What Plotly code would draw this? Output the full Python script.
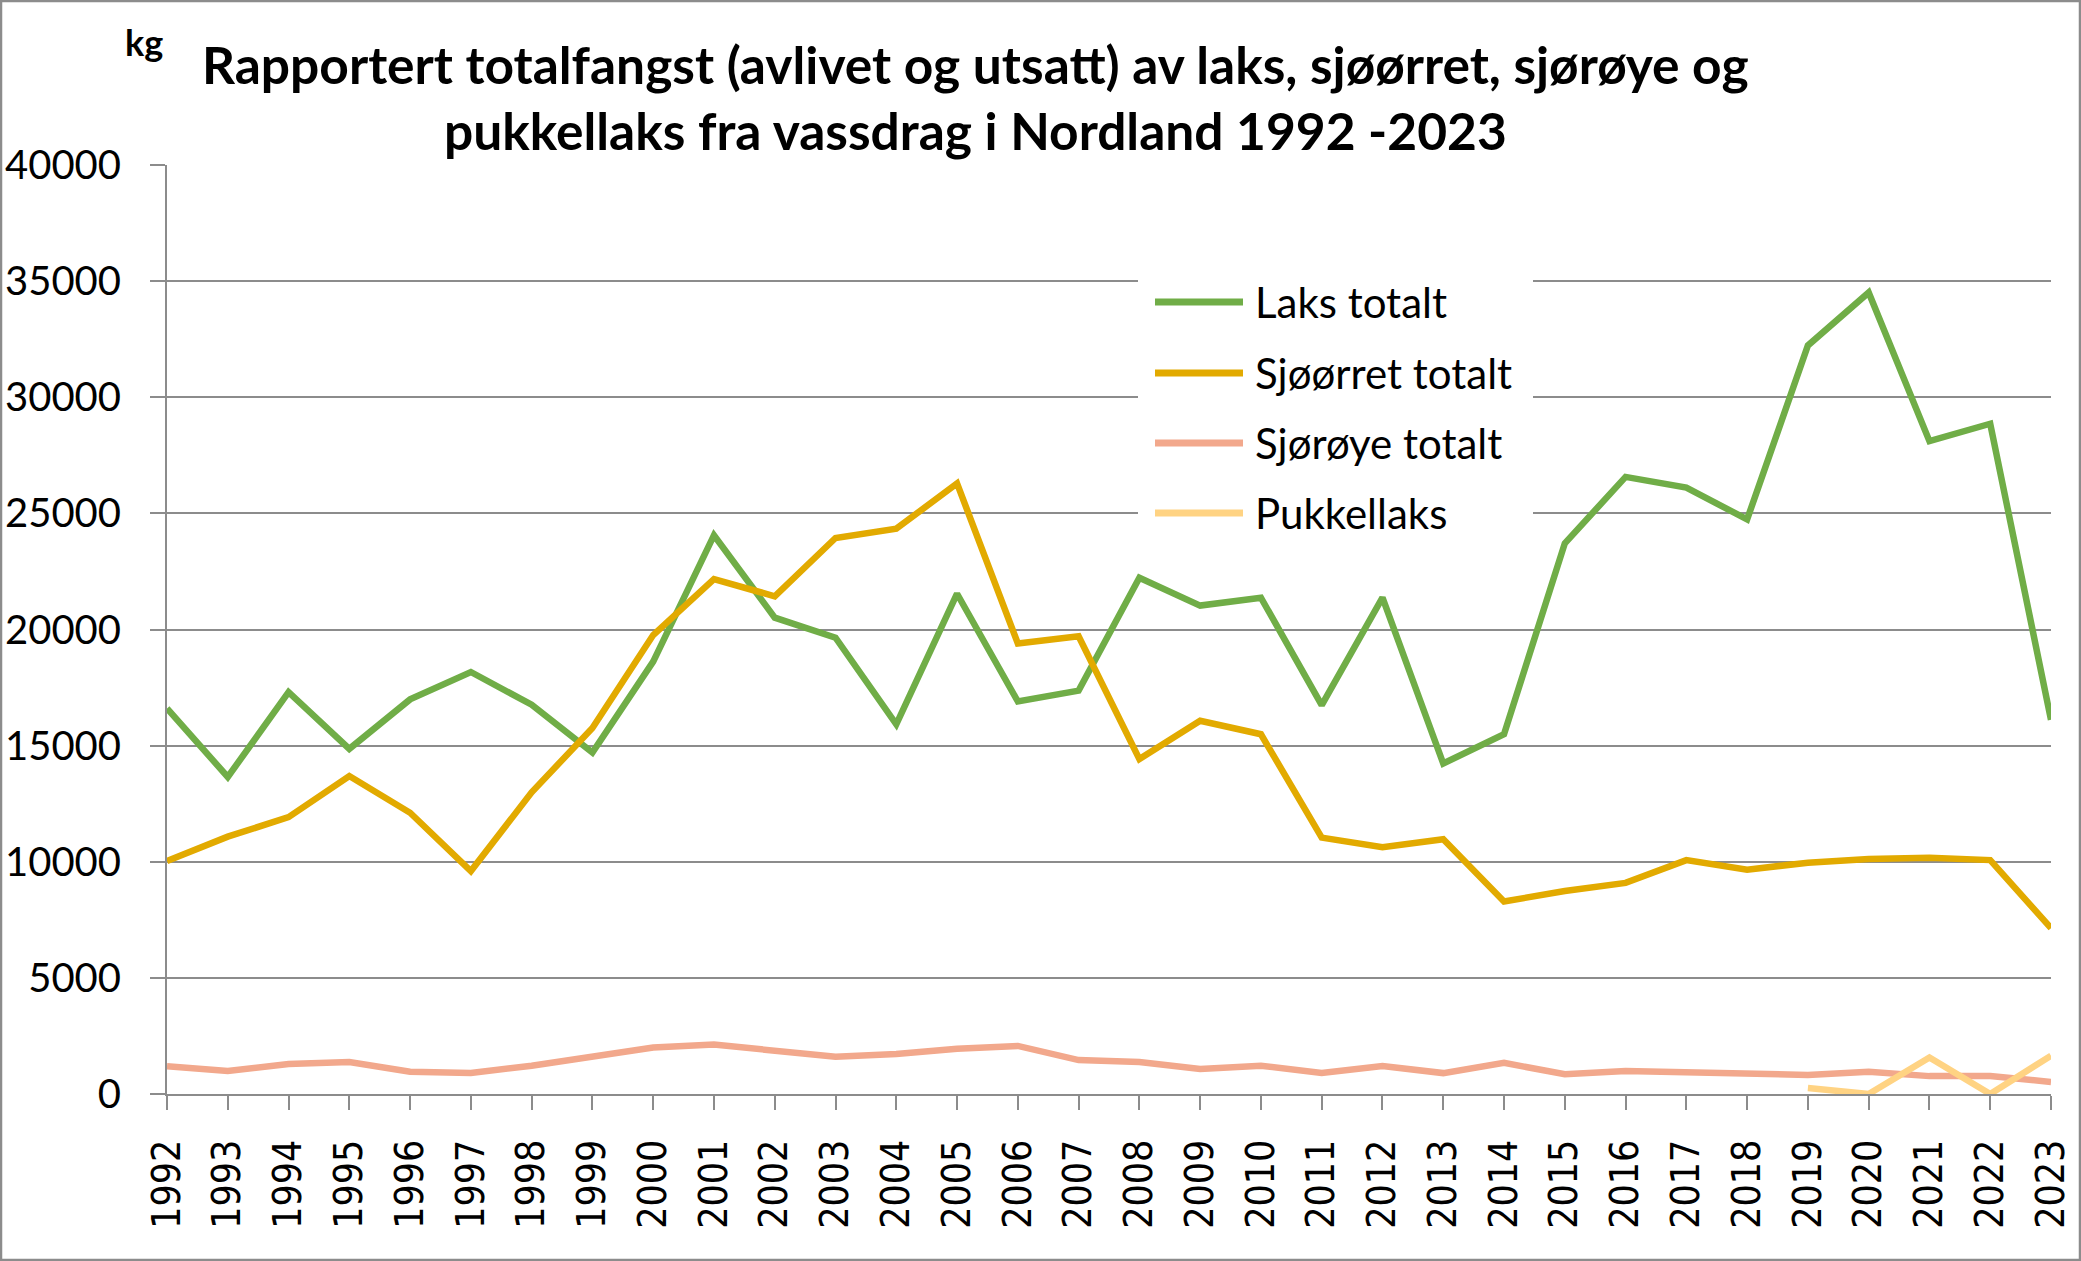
import plotly.graph_objects as go

years = list(range(1992, 2024))
year_labels = [str(y) for y in years]

laks_totalt = [16600, 13650, 17300, 14860, 16990, 18170, 16760, 14700, 18620, 24060,
               20510, 19650, 15920, 21540, 16900, 17370, 22230, 21030, 21370, 16740,
               21370, 14230, 15490, 23710, 26570, 26110, 24740, 32230, 34510, 28110,
               28860, 16110]
sjoorret_totalt = [10030, 11080, 11920, 13690, 12110, 9600, 12990, 15760, 19760, 22170,
                   21430, 23940, 24340, 26290, 19400, 19710, 14420, 16070, 15490, 11040,
                   10630, 10970, 8290, 8740, 9090, 10070, 9660, 9960, 10120, 10170,
                   10070, 7140]
sjoroye_totalt = [1200, 990, 1290, 1380, 960, 900, 1220, 1600, 2000, 2130,
                  1900, 1600, 1720, 1950, 2070, 1460, 1380, 1080, 1220, 900,
                  1200, 900, 1340, 850, 990, 920, 900, 820, 960, 770,
                  770, 520]
pukkellaks = [None] * 27 + [260, 0, 1570, 0, 1650]

series_names = ["Laks totalt", "Sjøørret totalt", "Sjørøye totalt", "Pukkellaks"]
series_colors = ["#70AD47", "#E2AA00", "#F2A88C", "#FFD383"]
series_values = [laks_totalt, sjoorret_totalt, sjoroye_totalt, pukkellaks]

title_line1 = "Rapportert totalfangst (avlivet og utsatt) av laks, sjøørret, sjørøye og"
title_line2 = "pukkellaks fra vassdrag i Nordland 1992 -2023"
unit_label = "kg"

W, H = 2081, 1261
L, R, T, B = 167, 30, 165, 167
PW, PH = W - L - R, H - T - B


def px(x):
    return (x - L) / PW


def py(y):
    return 1 - (y - T) / PH


fig = go.Figure()
for name, color, vals in zip(series_names, series_colors, series_values):
    fig.add_trace(go.Scatter(
        x=years, y=vals, mode="lines", name=name,
        line=dict(color=color, width=6.5), showlegend=False,
        connectgaps=False,
    ))

GRID = "#8C8C8C"
fig.update_layout(
    width=W, height=H,
    margin=dict(l=L, r=R, t=T, b=B, autoexpand=False),
    paper_bgcolor="white", plot_bgcolor="white",
    xaxis=dict(
        range=[1992, 2023], tickvals=years, ticktext=year_labels,
        tickangle=-90, showgrid=False, zeroline=False, automargin=False,
        showline=True, linecolor=GRID, linewidth=2,
        ticks="outside", ticklen=14, tickwidth=2, tickcolor=GRID,
        tickfont=dict(family="DejaVu Sans Condensed, DejaVu Sans", size=39, color="black"),
        ticklabelstandoff=14,
    ),
    yaxis=dict(
        range=[0, 40000], dtick=5000, tickformat="d", automargin=False,
        showgrid=True, gridcolor=GRID, gridwidth=2, zeroline=False,
        showline=True, linecolor=GRID, linewidth=2,
        ticks="outside", ticklen=15, tickwidth=2, tickcolor=GRID,
        tickfont=dict(family="Lato", size=40, color="black"),
        ticklabelstandoff=21,
    ),
    showlegend=False,
)

# Title and unit label
fig.add_annotation(x=px(975), y=py(64), xref="paper", yref="paper",
                   text=f"<b>{title_line1}</b>", showarrow=False,
                   xanchor="center", yanchor="middle",
                   font=dict(family="Lato", size=51.5, color="black"))
fig.add_annotation(x=px(975), y=py(130), xref="paper", yref="paper",
                   text=f"<b>{title_line2}</b>", showarrow=False,
                   xanchor="center", yanchor="middle",
                   font=dict(family="Lato", size=51.5, color="black"))
fig.add_annotation(x=px(144), y=py(42), xref="paper", yref="paper",
                   text=f"<b>{unit_label}</b>", showarrow=False,
                   xanchor="center", yanchor="middle",
                   font=dict(family="Lato", size=36, color="black"))

# Legend box (custom, to match long line samples)
fig.add_shape(type="rect", xref="paper", yref="paper",
              x0=px(1138), x1=px(1533), y0=py(548), y1=py(268),
              fillcolor="white", line=dict(width=0), layer="above")
row_y = [302, 373, 443, 513]
for name, color, yy in zip(series_names, series_colors, row_y):
    fig.add_shape(type="line", xref="paper", yref="paper",
                  x0=px(1155), x1=px(1243), y0=py(yy), y1=py(yy),
                  line=dict(color=color, width=7), layer="above")
    fig.add_annotation(x=px(1253), y=py(yy), xref="paper", yref="paper",
                       text=name, showarrow=False, xanchor="left", yanchor="middle",
                       font=dict(family="Lato", size=42, color="black"))

# Outer border
fig.add_shape(type="rect", xref="paper", yref="paper",
              x0=px(1), x1=px(W - 1), y0=py(H - 1), y1=py(1),
              line=dict(color="#8C8C8C", width=2.5), fillcolor="rgba(0,0,0,0)",
              layer="above")

fig.write_html(
    "out.html",
    config={"displayModeBar": False},
    post_script="document.body.style.margin='0';document.body.style.overflow='hidden';",
)
